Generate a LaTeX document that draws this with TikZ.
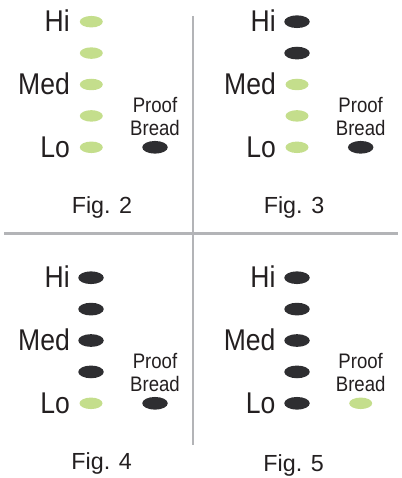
\documentclass[tikz,border=0pt]{standalone}
\usepackage{fontspec}
\setmainfont{Liberation Sans}
\newfontfamily\condfont[FakeStretch=0.885]{Liberation Sans}
\usetikzlibrary{shapes.geometric}
\definecolor{ledgreen}{HTML}{C4DE8C}
\definecolor{ledoff}{HTML}{2E2E31}
\definecolor{txt}{HTML}{231F20}
\definecolor{rule}{HTML}{B3B4B7}
\tikzset{
  led/.style={ellipse, inner sep=0pt},
  ledon/.style={led, fill=ledgreen, minimum width=23pt, minimum height=11.5pt},
  ledoffst/.style={led, fill=ledoff, minimum width=25.5pt, minimum height=12.7pt},
  lvl/.style={anchor=base east, inner sep=0pt, text=txt, font=\condfont\fontsize{30}{32}\selectfont},
  proof/.style={anchor=base, align=center, inner sep=0pt, text=txt, font=\condfont\fontsize{21}{23.3}\selectfont},
  figlbl/.style={anchor=base, inner sep=0pt, text=txt, font=\fontsize{23.3}{25}\selectfont},
  divider/.style={draw=rule, line width=2.6pt}
}
\newcommand\ovenpanel[9]{%
  \foreach \i/\s in {#6} {
    \node[\s] (#1d\i) at (#2, #3+31.4*\i-31.4) {};
  }
  \node[lvl] (#1hi) at (#4, #3+10) {Hi};
  \node[lvl] (#1med) at (#4, #3+62.8+10) {Med};
  \node[lvl] (#1lo) at (#4, #3+125.6+10) {Lo};
  \node[#7] (#1pd) at (#5, #3+125.6) {};
  \node[proof] (#1pt) at (#5, #3+125.6-11.7) {Proof\\Bread};
  \node[figlbl] (#1fig) at (#8) {#9};
}
\begin{document}
\begin{tikzpicture}[x=1pt,y=-1pt]
\useasboundingbox (0,0) rectangle (401,478);
% dividers
\coordinate (hl) at (4,233.5);
\coordinate (hr) at (398,233.5);
\coordinate (vt) at (193,16);
\coordinate (vb) at (193,445);
\draw[divider] (hl) -- (hr);
\draw[divider] (vt) -- (vb);
\ovenpanel{a}{91.3}{21.7}{70}{155}%
  {1/ledon,2/ledon,3/ledon,4/ledon,5/ledon}{ledoffst}{102,213.3}{Fig. 2}
\ovenpanel{b}{297}{21.7}{276}{360.7}%
  {1/ledoffst,2/ledoffst,3/ledon,4/ledon,5/ledon}{ledoffst}{294,213.3}{Fig. 3}
\ovenpanel{c}{91}{277.7}{70}{155}%
  {1/ledoffst,2/ledoffst,3/ledoffst,4/ledoffst,5/ledon}{ledoffst}{101.7,469.8}{Fig. 4}
\ovenpanel{d}{297}{277.7}{275.7}{360.7}%
  {1/ledoffst,2/ledoffst,3/ledoffst,4/ledoffst,5/ledoffst}{ledon}{293.7,471.7}{Fig. 5}
\end{tikzpicture}
\end{document}
